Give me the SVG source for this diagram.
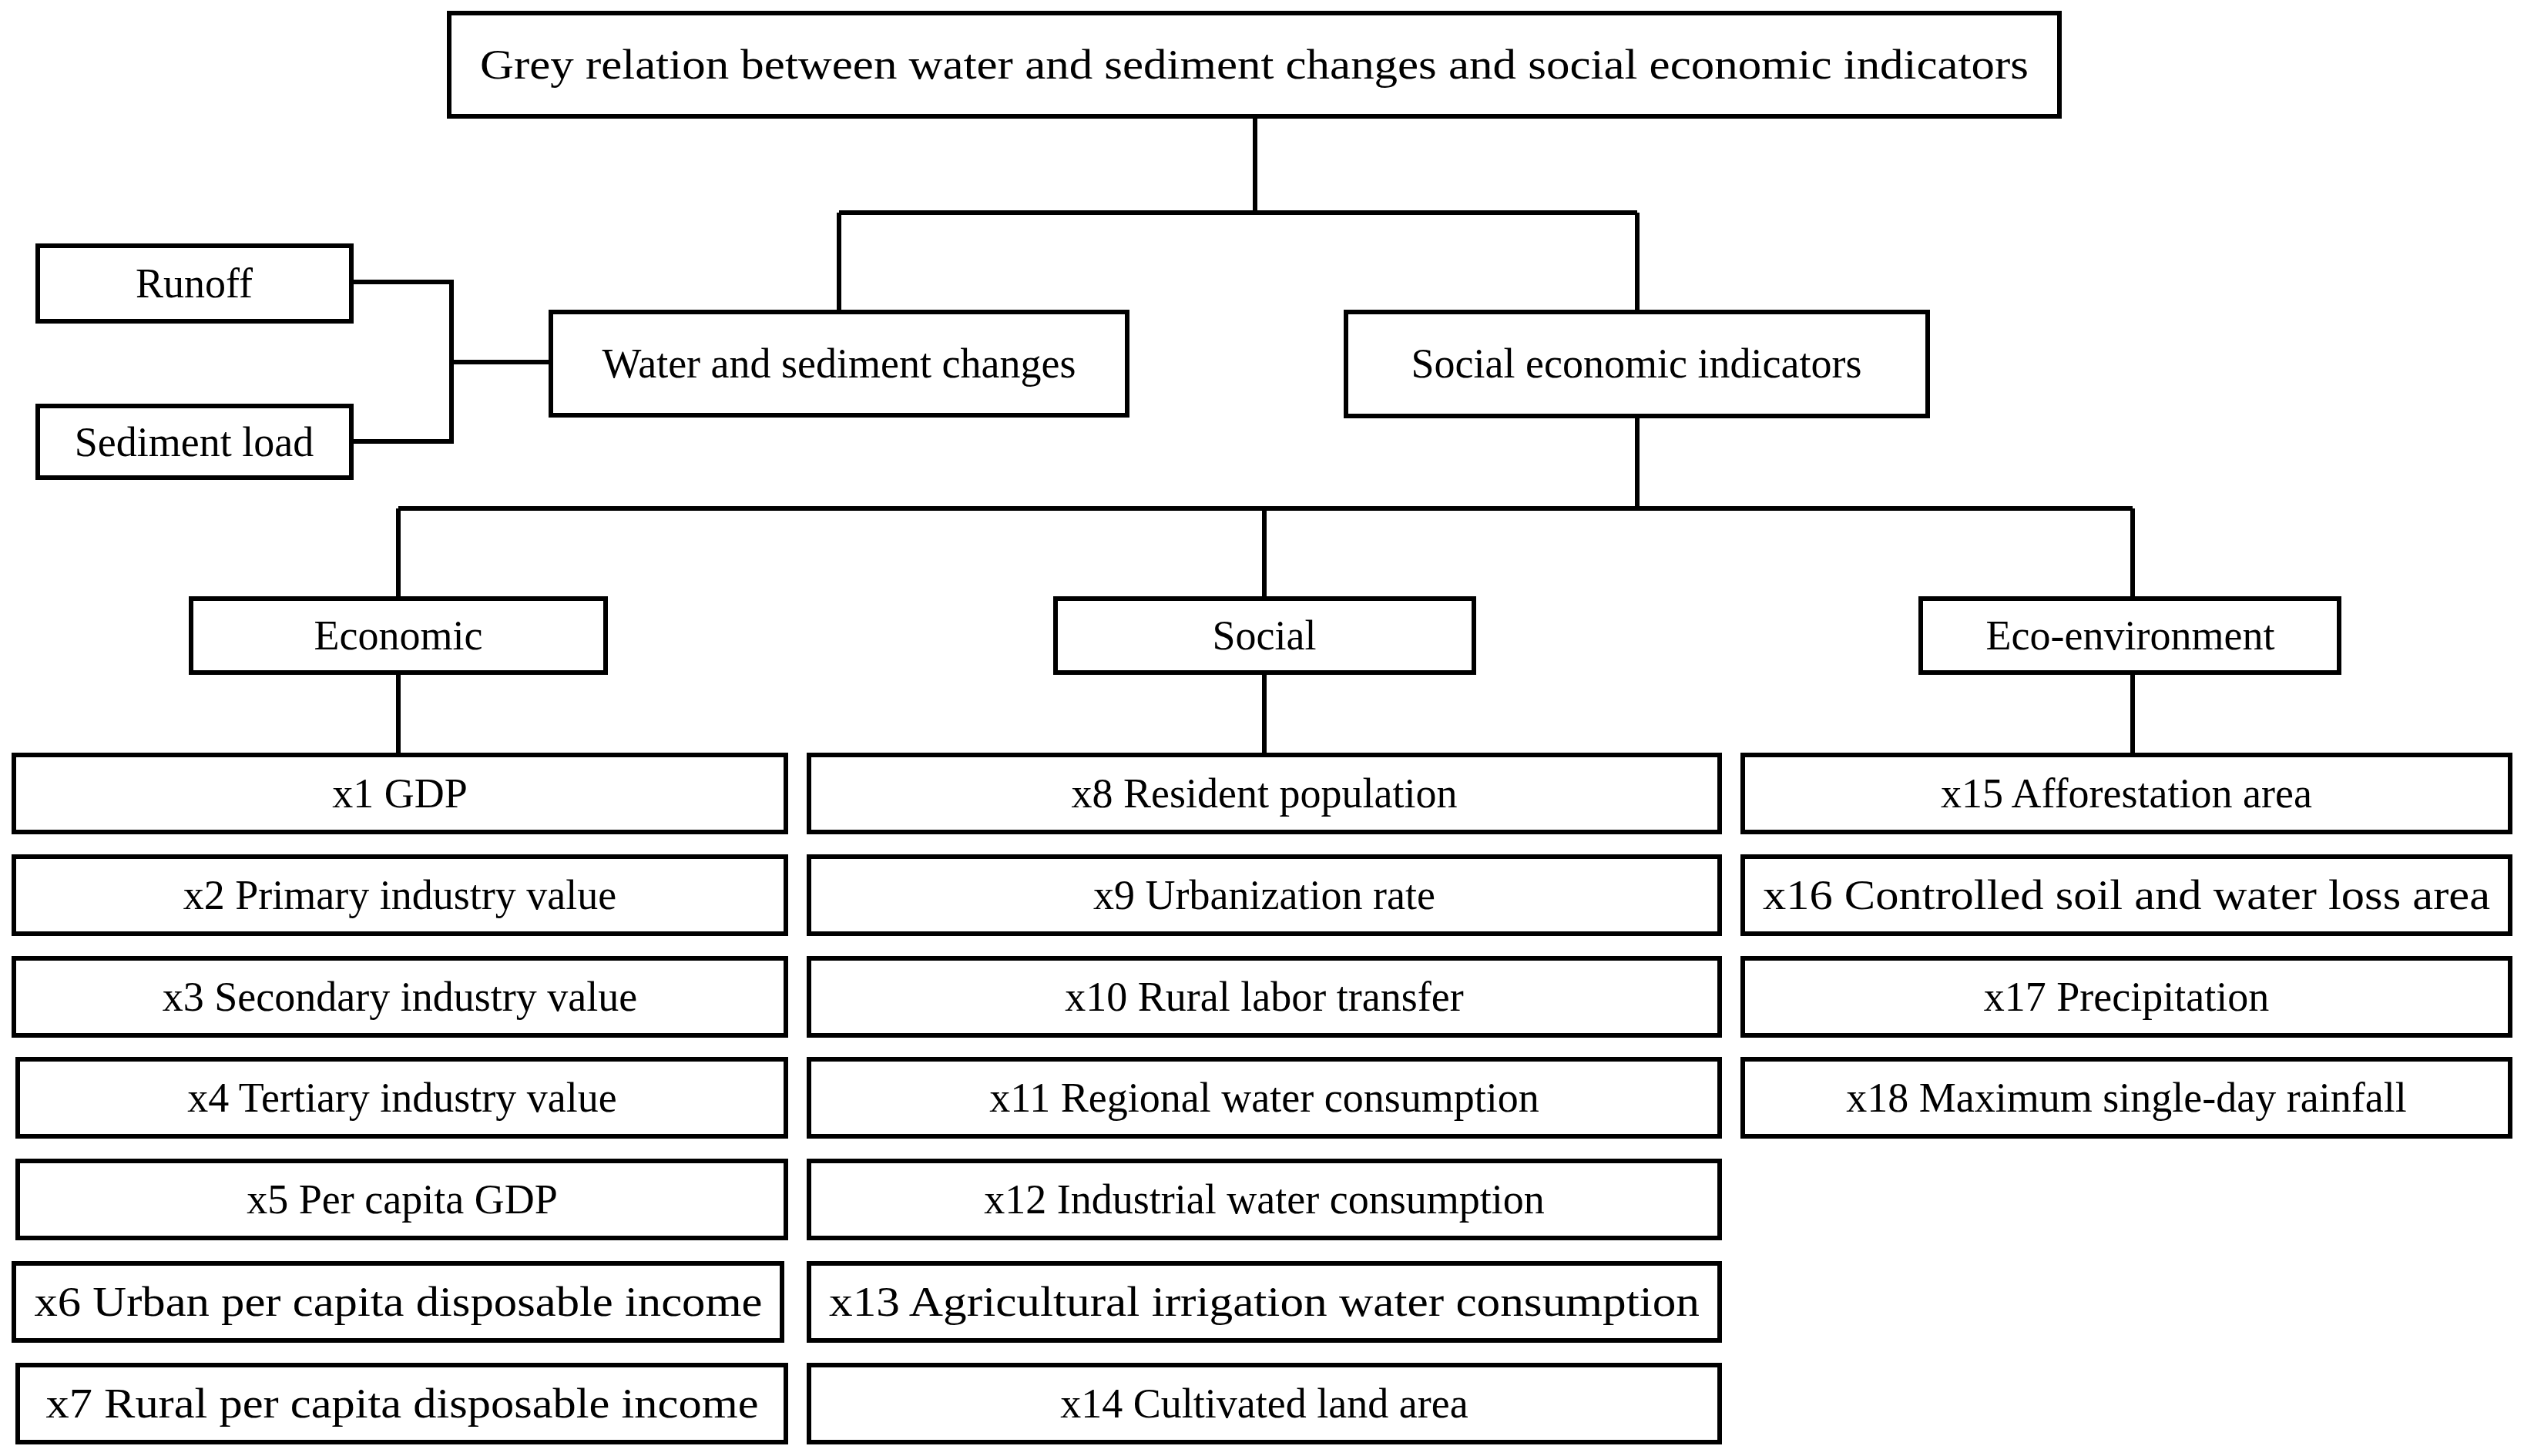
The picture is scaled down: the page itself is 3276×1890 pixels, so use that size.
<svg xmlns="http://www.w3.org/2000/svg" width="3276" height="1890" viewBox="0 0 3276 1890">
<style>
rect{fill:#fff;stroke:#000;stroke-width:6}
text{font-family:"Liberation Serif","Times New Roman",serif;font-size:54px;text-anchor:middle;dominant-baseline:central;fill:#000}
.c{fill:none;stroke:#000;stroke-width:6}
</style>
<rect width="3276" height="1890" style="stroke:none"/>
<g id="connectors">
<path class="c" d="M1629 150V276M1089 276H2125M1089 276V405M2125 276V405"/>
<path class="c" d="M456 366H586V573H456M586 470H715"/>
<path class="c" d="M2125 540V660M517 660H2768M517 660V777M1641 660V777M2768 660V777"/>
<path class="c" d="M517 873V980M1641 873V980M2768 873V980"/>
</g>
<g id="title"><rect x="583" y="17" width="2090" height="134"/><text x="1628" y="84" textLength="2010" lengthAdjust="spacingAndGlyphs">Grey relation between water and sediment changes and social economic indicators</text></g>
<g id="runoff"><rect x="49" y="319" width="407" height="98"/><text x="252" y="368">Runoff</text></g>
<g id="sediment"><rect x="49" y="527" width="407" height="93"/><text x="252" y="574">Sediment load</text></g>
<g id="water"><rect x="715" y="405" width="748" height="134"/><text x="1089" y="472">Water and sediment changes</text></g>
<g id="socecon"><rect x="1747" y="405" width="755" height="135"/><text x="2124" y="472">Social economic indicators</text></g>
<g id="economic"><rect x="248" y="777" width="538" height="96"/><text x="517" y="825">Economic</text></g>
<g id="social"><rect x="1370" y="777" width="543" height="96"/><text x="1641" y="825">Social</text></g>
<g id="eco"><rect x="2493" y="777" width="543" height="96"/><text x="2765" y="825">Eco-environment</text></g>
<g id="x1"><rect x="18" y="980" width="1002" height="100"/><text x="519" y="1030">x1 GDP</text></g>
<g id="x2"><rect x="18" y="1112" width="1002" height="100"/><text x="519" y="1162">x2 Primary industry value</text></g>
<g id="x3"><rect x="18" y="1244" width="1002" height="100"/><text x="519" y="1294">x3 Secondary industry value</text></g>
<g id="x4"><rect x="23" y="1375" width="997" height="100"/><text x="522" y="1425">x4 Tertiary industry value</text></g>
<g id="x5"><rect x="23" y="1507" width="997" height="100"/><text x="522" y="1557">x5 Per capita GDP</text></g>
<g id="x6"><rect x="18" y="1640" width="997" height="100"/><text x="517" y="1690" textLength="945" lengthAdjust="spacingAndGlyphs">x6 Urban per capita disposable income</text></g>
<g id="x7"><rect x="23" y="1772" width="997" height="100"/><text x="522" y="1822" textLength="925" lengthAdjust="spacingAndGlyphs">x7 Rural per capita disposable income</text></g>
<g id="x8"><rect x="1050" y="980" width="1182" height="100"/><text x="1641" y="1030">x8 Resident population</text></g>
<g id="x9"><rect x="1050" y="1112" width="1182" height="100"/><text x="1641" y="1162">x9 Urbanization rate</text></g>
<g id="x10"><rect x="1050" y="1244" width="1182" height="100"/><text x="1641" y="1294">x10 Rural labor transfer</text></g>
<g id="x11"><rect x="1050" y="1375" width="1182" height="100"/><text x="1641" y="1425">x11 Regional water consumption</text></g>
<g id="x12"><rect x="1050" y="1507" width="1182" height="100"/><text x="1641" y="1557">x12 Industrial water consumption</text></g>
<g id="x13"><rect x="1050" y="1640" width="1182" height="100"/><text x="1641" y="1690" textLength="1130" lengthAdjust="spacingAndGlyphs">x13 Agricultural irrigation water consumption</text></g>
<g id="x14"><rect x="1050" y="1772" width="1182" height="100"/><text x="1641" y="1822">x14 Cultivated land area</text></g>
<g id="x15"><rect x="2262" y="980" width="996" height="100"/><text x="2760" y="1030">x15 Afforestation area</text></g>
<g id="x16"><rect x="2262" y="1112" width="996" height="100"/><text x="2760" y="1162" textLength="944" lengthAdjust="spacingAndGlyphs">x16 Controlled soil and water loss area</text></g>
<g id="x17"><rect x="2262" y="1244" width="996" height="100"/><text x="2760" y="1294">x17 Precipitation</text></g>
<g id="x18"><rect x="2262" y="1375" width="996" height="100"/><text x="2760" y="1425">x18 Maximum single-day rainfall</text></g>
</svg>
